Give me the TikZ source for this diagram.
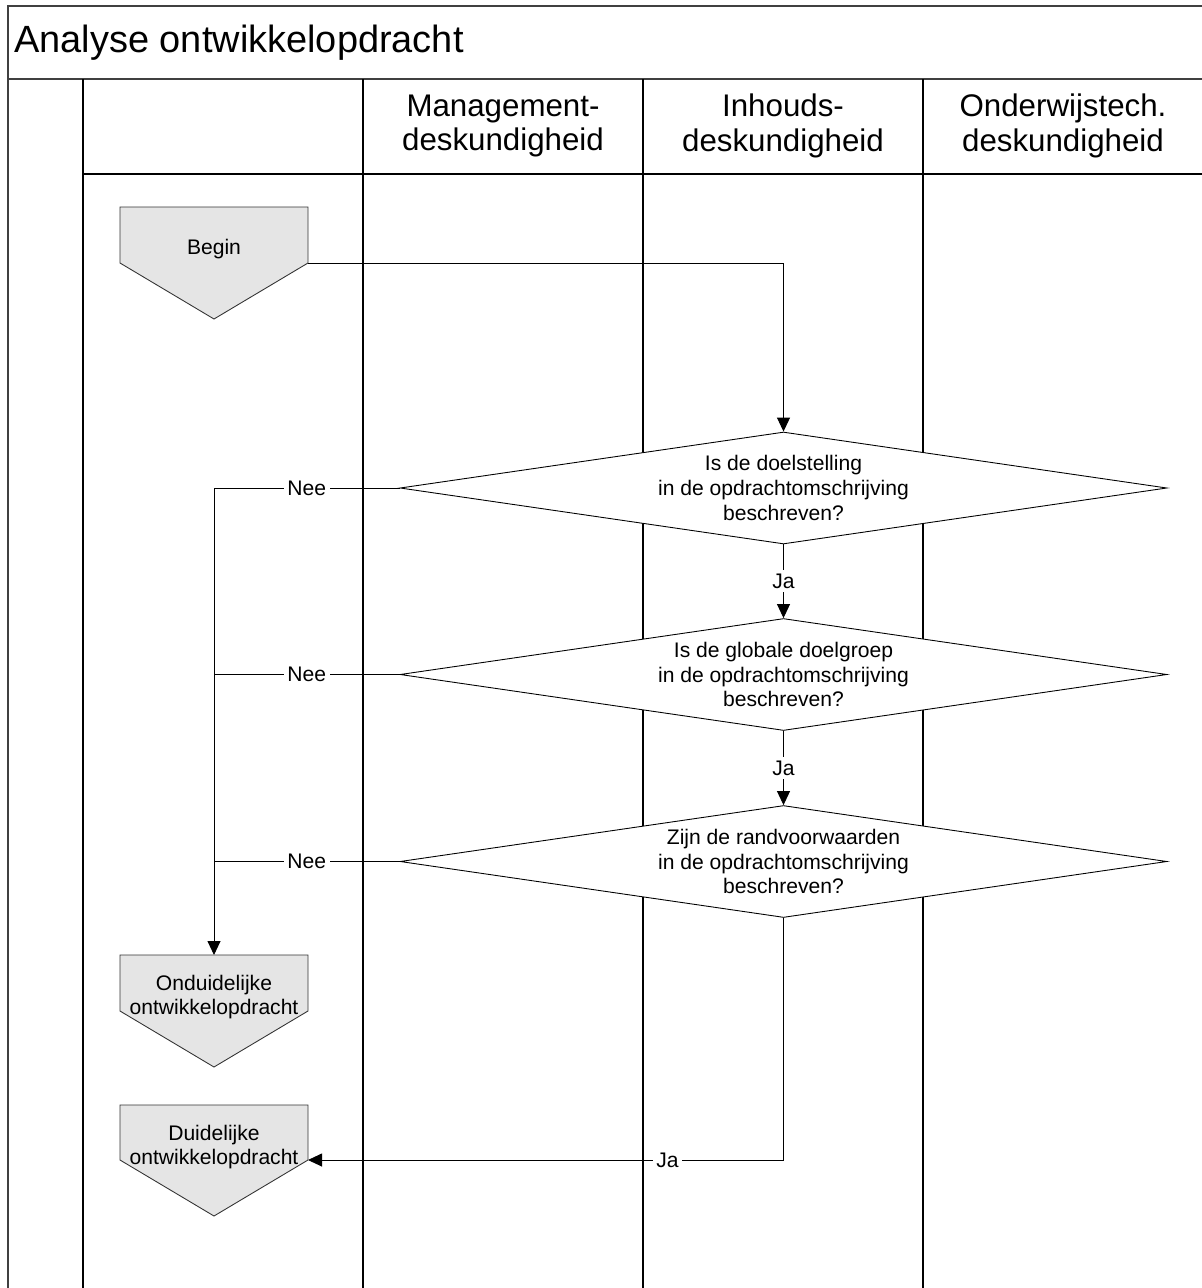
\documentclass[tikz,border=0pt]{standalone}
\usepackage{fontspec}
\setmainfont{Liberation Sans}
\usetikzlibrary{shapes.geometric,arrows.meta,calc}

\begin{document}
\begin{tikzpicture}[
    x=0.02cm, y=-0.02cm,
    kader/.style={line width=0.7pt, draw=black!75},
    baan/.style={line width=0.7pt, draw=black},
    vorm/.style={draw=black!80, fill=black!10, line width=0.5pt},
    keuze/.style={diamond, draw=black, fill=white, line width=0.5pt,
      minimum width=15.34cm, minimum height=2.24cm, aspect=6.85,
      inner sep=0pt, align=center, font=\fontsize{12}{14}\selectfont},
    tekst/.style={align=center, inner sep=0pt, font=\fontsize{12}{14}\selectfont},
    kop/.style={align=center, inner sep=0pt, font=\fontsize{17.8}{19.9}\selectfont},
    etiket/.style={fill=white, inner sep=2pt, font=\fontsize{12}{14}\selectfont},
    lijn/.style={line width=0.5pt},
    pijl/.style={line width=0.5pt, -{Triangle[length=0.28cm,width=0.26cm]}}
  ]
    % 画布范围
    \clip (0,0) rectangle (1202,1288);
    % 外框与标题
    \draw[kader] (8,1300) -- (8,6) -- (1220,6);
    \draw[kader] (8,79) -- (1220,79);
    \node[anchor=west, inner sep=0pt, font=\fontsize{21.6}{24}\selectfont] (titel) at (14,43) {Analyse ontwikkelopdracht};
    % 泳道
    \draw[baan] (83,174) -- (1220,174);
    \foreach \x in {83,363,643,923}
      \draw[baan] (\x,79) -- (\x,1300);
    % 泳道标题
    \node[kop] (management) at (503,126) {Management-\\deskundigheid};
    \node[kop] (inhoud) at (783,126) {Inhouds-\\deskundigheid};
    \node[kop] (onderwijs) at (1063,126) {Onderwijstech.\\deskundigheid};

    % 起点 Begin
    \draw[vorm] (120,207) -- (308,207) -- (308,263) coordinate (begin-r) -- (214,319) -- (120,263) -- cycle;
    \node[tekst] (begin) at (214,249) {Begin};
    % 三个判断
    \node[keuze] (k1) at (783.5,488) {Is de doelstelling\\in de opdrachtomschrijving\\beschreven?};
    \node[keuze] (k2) at (783.5,674.5) {Is de globale doelgroep\\in de opdrachtomschrijving\\beschreven?};
    \node[keuze] (k3) at (783.5,861.5) {Zijn de randvoorwaarden\\in de opdrachtomschrijving\\beschreven?};
    % 终点
    \draw[vorm] (120,955) -- (214,955) coordinate (ondui-top) -- (308,955) -- (308,1011) -- (214,1067) -- (120,1011) -- cycle;
    \node[tekst] (ondui) at (214,997) {Onduidelijke\\ontwikkelopdracht};
    \draw[vorm] (120,1105) -- (308,1105) -- (308,1160) coordinate (dui-r) -- (214,1216) -- (120,1160) -- cycle;
    \node[tekst] (dui) at (214,1147) {Duidelijke\\ontwikkelopdracht};

    % 连线 Ja
    \draw[pijl] (begin-r) -| (k1.north);
    \draw[pijl] (k1.south) -- node[etiket]{Ja} (k2.north);
    \draw[pijl] (k2.south) -- node[etiket]{Ja} (k3.north);
    \draw[pijl] (k3.south) -- (k3.south |- dui-r) -- node[etiket, pos=0.244]{Ja} (dui-r);
    % 连线 Nee
    \draw[pijl] (k1.west) -- node[etiket]{Nee} (k1.west -| ondui-top) -- (ondui-top);
    \draw[lijn] (k2.west) -- node[etiket]{Nee} (k2.west -| ondui-top);
    \draw[lijn] (k3.west) -- node[etiket]{Nee} (k3.west -| ondui-top);
\end{tikzpicture}
\end{document}
